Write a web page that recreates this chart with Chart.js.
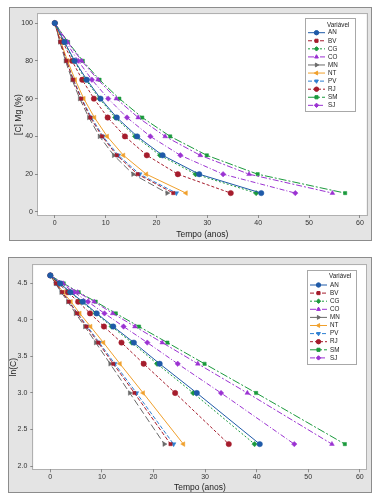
<!DOCTYPE html>
<html lang="pt">
<head>
  <meta charset="UTF-8">
  <title>Decaimento de Mg - Tempo (anos)</title>
  <script src="https://cdn.jsdelivr.net/npm/chart.js"></script>
  <style>
    body { margin: 0; background: #fff; width: 383px; height: 502px; position: relative; overflow: hidden; }
    .frame { position: absolute; background: #e4e4e4; border: 1px solid #8c8c8c; box-sizing: border-box; }
    .frame canvas { display: block; }
    #f1 { left: 9px; top: 7px; width: 363px; height: 234px; }
    #f2 { left: 8px; top: 257px; width: 364px; height: 236px; }
  </style>
</head>
<body>
  <div class="frame" id="f1"><canvas id="concChart" width="361" height="232"></canvas></div>
  <div class="frame" id="f2"><canvas id="lnChart" width="362" height="234"></canvas></div>

  <script>
    // concentration levels (y of every series) and their ln
    const levels   = [100, 90, 80, 70, 60, 50, 40, 30, 20, 10];
    const lnLevels = [4.61, 4.50, 4.38, 4.25, 4.09, 3.91, 3.69, 3.40, 3.00, 2.30];

    // time (anos) at which each level is reached, per variable
    const tAN = [0, 1.9, 3.9, 6.3, 9.0, 12.2, 16.2, 21.2, 28.4, 40.6];
    const tBV = [0, 1.1, 2.3, 3.6, 5.2, 7.0, 9.3, 12.2, 16.3, 23.3];
    const tCG = [0, 1.8, 3.8, 6.1, 8.8, 11.9, 15.8, 20.7, 27.7, 39.6];
    const tCO = [0, 2.5, 5.3, 8.5, 12.1, 16.4, 21.7, 28.6, 38.2, 54.6];
    const tMN = [0, 1.0, 2.1, 3.4, 4.9, 6.7, 8.8, 11.6, 15.4, 22.1];
    const tNT = [0, 1.2, 2.5, 4.0, 5.7, 7.8, 10.3, 13.5, 18.0, 25.8];
    const tPV = [0, 1.1, 2.3, 3.7, 5.3, 7.2, 9.5, 12.5, 16.7, 23.9];
    const tRJ = [0, 1.6, 3.4, 5.4, 7.7, 10.4, 13.8, 18.1, 24.2, 34.6];
    const tSM = [0, 2.6, 5.5, 8.8, 12.7, 17.2, 22.7, 29.9, 39.9, 57.1];
    const tSJ = [0, 2.2, 4.6, 7.3, 10.5, 14.2, 18.8, 24.7, 33.1, 47.3];

    const xTicks   = [0, 10, 20, 30, 40, 50, 60];
    const yTicks1  = [0, 20, 40, 60, 80, 100];
    const yTicks2  = [2.0, 2.5, 3.0, 3.5, 4.0, 4.5];

    const FONT = '"Liberation Sans", Arial, sans-serif';

    // label, times, color, dash, marker, rotation
    const series = [
      ['AN', tAN, '#1f5aa8', [], 'circle', 0],
      ['BV', tBV, '#a51c2c', [4, 2], 'rect', 0],
      ['CG', tCG, '#1b9a3d', [2, 2], 'rectRot', 0],
      ['CO', tCO, '#9b32d2', [6, 2, 2, 2], 'triangle', 0],
      ['MN', tMN, '#6a6a6a', [7, 3], 'triangle', 90],
      ['NT', tNT, '#f0a02c', [], 'triangle', -90],
      ['PV', tPV, '#2f80d2', [4, 2], 'triangle', 180],
      ['RJ', tRJ, '#a51c2c', [3, 2], 'circle', 0],
      ['SM', tSM, '#1b9a3d', [8, 2, 2, 2], 'rect', 0],
      ['SJ', tSJ, '#9b32d2', [5, 2, 1, 2], 'rectRot', 0]
    ];

    function makeDatasets(yVals) {
      return series.map(s => ({
        label: s[0],
        data: s[1].map((t, i) => ({ x: t, y: yVals[i] })),
        borderColor: s[2],
        backgroundColor: s[2],
        borderDash: s[3],
        borderWidth: 1,
        pointStyle: s[4],
        pointRotation: s[5],
        pointRadius: s[4] === 'rect' ? 2.3 : 2.7,
        pointBorderWidth: 0.5,
        showLine: true,
        tension: 0
      }));
    }

    // white data region with grey border
    const plotArea = {
      id: 'plotArea',
      beforeDraw(chart) {
        const a = chart.chartArea, ctx = chart.ctx;
        ctx.save();
        ctx.fillStyle = '#fff';
        ctx.fillRect(a.left, a.top, a.right - a.left, a.bottom - a.top);
        ctx.strokeStyle = '#b0b0b0';
        ctx.lineWidth = 1;
        ctx.strokeRect(Math.round(a.left) - 0.5, Math.round(a.top) - 0.5, Math.round(a.right - a.left) + 1, Math.round(a.bottom - a.top) + 1);
        ctx.restore();
      }
    };

    // Minitab style legend: line sample + marker
    const legendBox = {
      id: 'legendBox',
      afterDatasetsDraw(chart, args, o) {
        const a = chart.chartArea, ctx = chart.ctx;
        const x = Math.round(a.right - o.right - o.w), y = Math.round(a.top + o.top);
        ctx.save();
        ctx.fillStyle = '#fff';
        ctx.fillRect(x, y, o.w, o.h);
        ctx.strokeStyle = '#a8a8a8';
        ctx.lineWidth = 1;
        ctx.strokeRect(x + 0.5, y + 0.5, o.w, o.h);
        ctx.font = '6.3px ' + FONT;
        ctx.textBaseline = 'middle';
        ctx.fillStyle = '#222';
        ctx.fillText('Variável', x + 22, y + o.titleY);
        chart.data.datasets.forEach((ds, i) => {
          const cy = y + o.firstY + i * o.step;
          ctx.strokeStyle = ds.borderColor;
          ctx.lineWidth = 1;
          ctx.setLineDash(ds.borderDash);
          ctx.beginPath();
          ctx.moveTo(x + 3, cy);
          ctx.lineTo(x + 20, cy);
          ctx.stroke();
          ctx.setLineDash([]);
          ctx.fillStyle = ds.backgroundColor;
          Chart.helpers.drawPoint(ctx, { pointStyle: ds.pointStyle, rotation: ds.pointRotation, radius: 2.2, borderWidth: 0.5 }, x + 11.5, cy);
          ctx.fillStyle = '#222';
          ctx.fillText(ds.label, x + 23, cy);
        });
        ctx.restore();
      }
    };

    function makeChart(id, yVals, opt) {
      return new Chart(document.getElementById(id), {
        type: 'scatter',
        data: { datasets: makeDatasets(yVals) },
        options: {
          responsive: false,
          animation: false,
          layout: { padding: opt.padding },
          plugins: {
            legend: { display: false },
            tooltip: { enabled: false },
            legendBox: opt.legend
          },
          scales: {
            x: {
              type: 'linear',
              min: -3.3, max: 61.3,
              afterBuildTicks: s => { s.ticks = xTicks.map(v => ({ value: v })); },
              afterFit: s => { s.height = opt.xHeight; },
              grid: { drawOnChartArea: false, drawTicks: true, tickLength: 3, color: '#8a8a8a' },
              border: { display: false },
              ticks: { color: '#333', padding: 1, font: { family: FONT, size: 7 }, maxRotation: 0 },
              title: { display: true, text: 'Tempo (anos)', color: '#222', padding: opt.xTitlePad, font: { family: FONT, size: 8.5, lineHeight: 1 } }
            },
            y: {
              min: opt.yMin, max: opt.yMax,
              afterBuildTicks: s => { s.ticks = opt.yTicks.map(v => ({ value: v })); },
              afterFit: s => { s.width = opt.yWidth; },
              grid: { drawOnChartArea: false, drawTicks: true, tickLength: 3, color: '#8a8a8a' },
              border: { display: false },
              ticks: { color: '#333', padding: opt.yTickPad, font: { family: FONT, size: 7 }, callback: opt.fmt },
              title: { display: true, text: opt.yTitle, color: '#222', padding: opt.yTitlePad, font: { family: FONT, size: 8.5, lineHeight: 1 } }
            }
          }
        },
        plugins: [plotArea, legendBox]
      });
    }

    makeChart('concChart', levels, {
      padding: { left: 0, top: 4, right: 3, bottom: 0 },
      xHeight: 25, yWidth: 28,
      yMin: -1.6, yMax: 104.7, yTicks: yTicks1,
      yTitle: '[C] Mg (%)', yTitlePad: { top: 4, bottom: 0 }, xTitlePad: { top: 0, bottom: 1 },
      yTickPad: 2,
      fmt: v => v,
      legend: { right: 12, top: 4, w: 50, h: 93, titleY: 7.3, firstY: 14.7, step: 8.07 }
    });

    makeChart('lnChart', lnLevels, {
      padding: { left: 0, top: 6.3, right: 1.7, bottom: 0 },
      xHeight: 22.7, yWidth: 24.3,
      yMin: 1.955, yMax: 4.75, yTicks: yTicks2,
      yTitle: 'ln(C)', yTitlePad: { top: 0, bottom: 0 }, xTitlePad: { top: 0, bottom: 0 },
      yTickPad: 3,
      fmt: v => v.toFixed(1),
      legend: { right: 10.6, top: 5, w: 49, h: 94, titleY: 6.7, firstY: 15, step: 8.1 }
    });
  </script>
</body>
</html>
